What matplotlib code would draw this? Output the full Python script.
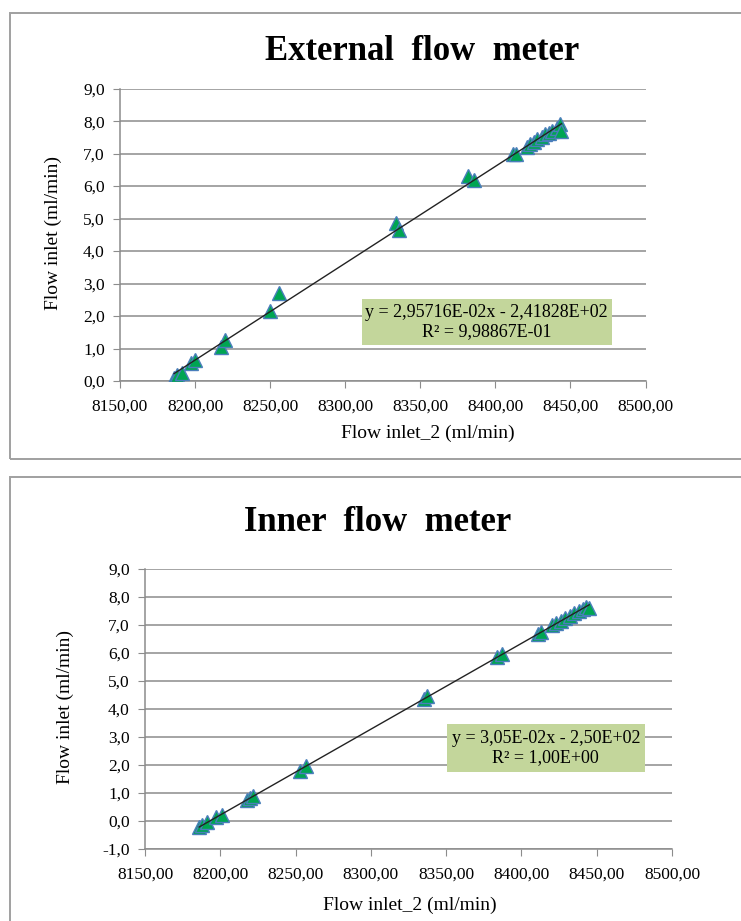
import numpy as np
import matplotlib
matplotlib.use("Agg")
from matplotlib import pyplot as plt
from matplotlib.ticker import FuncFormatter, MultipleLocator
from matplotlib.patches import Rectangle

# External flow meter data
ext_x = [8186, 8188, 8191, 8197, 8200, 8217, 8220, 8250, 8256, 8334, 8336, 8382, 8386,
         8412, 8414, 8421, 8423, 8426, 8428, 8431, 8433, 8436, 8438, 8441, 8443, 8444]
ext_y = [0.1, 0.2, 0.25, 0.55, 0.65, 1.05, 1.25, 2.15, 2.7, 4.85, 4.65, 6.3, 6.2,
         7.0, 7.0, 7.2, 7.3, 7.35, 7.45, 7.5, 7.6, 7.65, 7.7, 7.8, 7.9, 7.7]
ext_eq = "y = 2,95716E-02x - 2,41828E+02\nR² = 9,98867E-01"

# Inner flow meter data
inn_x = [8186, 8188, 8191, 8197, 8201, 8218, 8220, 8222, 8253, 8257, 8335, 8337, 8384,
         8387, 8411, 8413, 8420, 8423, 8426, 8429, 8432, 8435, 8438, 8441, 8443, 8445]
inn_y = [-0.2, -0.15, -0.05, 0.15, 0.22, 0.75, 0.82, 0.88, 1.8, 1.95, 4.35, 4.45, 5.85,
         5.98, 6.68, 6.75, 7.0, 7.08, 7.15, 7.25, 7.32, 7.42, 7.5, 7.58, 7.65, 7.62]
inn_eq = "y = 3,05E-02x - 2,50E+02\nR² = 1,00E+00"

GRID = "#8c8c8c"
plt.rcParams["font.family"] = "Liberation Serif"


def comma(dec):
    return FuncFormatter(lambda v, p: f"{v:.{dec}f}".replace(".", ","))


def panel(fig, rect, x, y, title, eq, ylim, title_xy, eq_box, xlab_xy, ylab_xy):
    ax = fig.add_axes(rect)
    ax.set_xlim(8150, 8500)
    ax.set_ylim(*ylim)
    ax.xaxis.set_major_locator(MultipleLocator(50))
    ax.yaxis.set_major_locator(MultipleLocator(1))
    ax.xaxis.set_major_formatter(comma(2))
    ax.yaxis.set_major_formatter(comma(1))
    ax.grid(axis="y", color=GRID, lw=1.1)
    ax.set_axisbelow(True)
    for s in ["top", "right"]:
        ax.spines[s].set_visible(False)
    for s in ["left", "bottom"]:
        ax.spines[s].set_color(GRID)
        ax.spines[s].set_linewidth(1.1)
    ax.tick_params(axis="both", direction="out", length=5, color=GRID, labelsize=12.5)
    ax.tick_params(axis="x", pad=8)
    ax.tick_params(axis="y", pad=6)

    ax.plot(x, y, "^", ms=10, mfc="#00a552", mec="#4a7ebb", mew=1, zorder=3)
    # linear trend line
    k, b = np.polyfit(x, y, 1)
    xs = np.array([min(x), max(x)])
    ax.plot(xs, k * xs + b, color="#222222", lw=1, zorder=4)

    ax.set_xlabel("Flow inlet_2 (ml/min)", fontsize=14, va="center")
    ax.set_ylabel("Flow inlet (ml/min)", fontsize=14, va="center")
    ax.xaxis.set_label_coords(*xlab_xy)
    ax.yaxis.set_label_coords(*ylab_xy)

    fig.text(title_xy[0], title_xy[1], title, fontsize=25, fontweight="bold",
             ha="center", va="center")
    bx, by, bw, bh = eq_box
    fig.patches.append(Rectangle((bx, by), bw, bh, transform=fig.transFigure,
                                 facecolor="#c3d69b", edgecolor="none", zorder=5))
    fig.text(bx + bw / 2, by + bh / 2, eq, fontsize=13, ha="center", va="center",
             linespacing=1.15, zorder=6)
    return ax


W, H = 741, 921
fig = plt.figure(figsize=(W / 100, H / 100), dpi=100)

# outer frames
fig.patches.append(Rectangle((9.5 / W, 1 - 459 / H), 1.0, (459 - 12.7) / H,
                             transform=fig.transFigure, fill=False,
                             edgecolor="#a0a0a0", lw=1.4))
fig.patches.append(Rectangle((10 / W, -0.05), 1.0, 0.05 + (921 - 477) / H,
                             transform=fig.transFigure, fill=False,
                             edgecolor="#a0a0a0", lw=1.4))

panel(fig, [120 / W, 1 - 381 / H, 525.5 / W, 292.3 / H], ext_x, ext_y,
      "External  flow  meter", ext_eq, (0, 9),
      (422 / W, 1 - 52 / H), (361.5 / W, 1 - 345 / H, 250.5 / W, 46 / H),
      ((428 - 120) / 525.5, (381 - 433) / 292.3),
      ((53 - 120) / 525.5, (381 - 233) / 292.3))

panel(fig, [145 / W, 1 - 849 / H, 527 / W, 280 / H], inn_x, inn_y,
      "Inner  flow  meter", inn_eq, (-1, 9),
      (378 / W, 1 - 522 / H), (446.6 / W, 1 - 772 / H, 198.4 / W, 48 / H),
      ((410 - 145) / 527, (849 - 905) / 280),
      ((65 - 145) / 527, (849 - 707) / 280))

fig.savefig("out.png", dpi=100)
